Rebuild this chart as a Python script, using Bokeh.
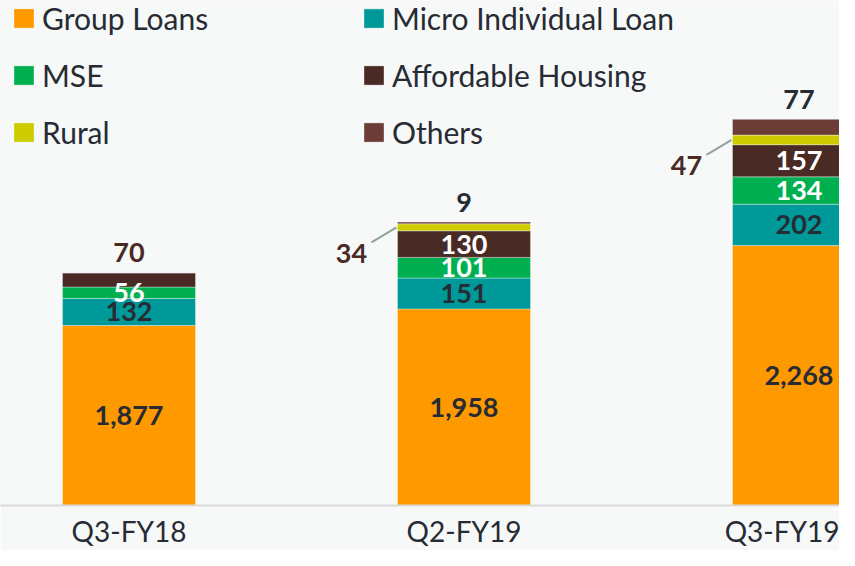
from bokeh.plotting import figure
from bokeh.models import (ColumnDataSource, Range1d, LinearAxis, FixedTicker,
                          Legend, LegendItem)
from bokeh.core.properties import value
from bokeh.embed import file_html
from bokeh.resources import INLINE

# ---------------- data ----------------
periods = ["Q3-FY18", "Q2-FY19", "Q3-FY19"]
series = ["Group Loans", "Micro Individual Loan", "MSE",
          "Affordable Housing", "Rural", "Others"]
group_loans = [1877, 1958, 2268]
micro_individual = [132, 151, 202]
mse = [56, 101, 134]
affordable_housing = [70, 130, 157]
rural = [0, 34, 47]
others = [0, 9, 77]

# ---------------- style ----------------
colors = ["#FF9900", "#009999", "#00B050", "#4A2A25", "#CCCC00", "#6B3D36"]
DARK = "#262B34"
BROWN = "#4A2A25"
BG = "#F7F8F8"
FONT = "Lato"

W, H = 839, 550
FRAME_H = 507           # frame height in px (axis panel below)
X_PX = 335.0            # px per category
X0_PX = 128.5           # px position of first category centre
Y_START = 996.7         # value at the baseline (broken axis)
Y_PX = 0.2053           # px per unit
BAR_W = 133 / X_PX

keys = ["gl", "mil", "mse", "ah", "rural", "others"]
values = [group_loans, micro_individual, mse, affordable_housing, rural, others]
xs = list(range(len(periods)))

src = ColumnDataSource(dict(x=xs, **{k: v for k, v in zip(keys, values)}))

p = figure(width=W, height=H, output_backend="svg", toolbar_location=None,
           x_range=Range1d(-X0_PX / X_PX, (W - X0_PX) / X_PX),
           y_range=Range1d(Y_START, Y_START + FRAME_H / Y_PX),
           x_axis_location=None, y_axis_location=None,
           min_border_left=0, min_border_right=0, min_border_top=0,
           min_border_bottom=H - FRAME_H)
p.background_fill_color = BG
p.border_fill_color = BG
p.outline_line_color = None
p.grid.visible = False

rs = p.vbar_stack(keys, x="x", width=BAR_W, color=colors, source=src,
                  line_color="white", line_alpha=0.35, line_width=1)

# x axis
xaxis = LinearAxis(ticker=FixedTicker(ticks=xs),
                   major_label_overrides={i: t for i, t in zip(xs, periods)})
xaxis.axis_line_color = "#D9D9D9"
xaxis.axis_line_width = 2
xaxis.major_tick_out = 0
xaxis.major_tick_in = 0
xaxis.minor_tick_out = 0
xaxis.minor_tick_in = 0
xaxis.major_label_standoff = 8
xaxis.major_label_text_font = FONT
xaxis.major_label_text_font_size = "28px"
xaxis.major_label_text_color = DARK
p.add_layout(xaxis, "below")

# legends (two columns)
def make_legend(idx, x):
    leg = Legend(items=[LegendItem(label=series[i], renderers=[rs[i]]) for i in idx],
                 location=(x, 355))
    leg.background_fill_alpha = 0
    leg.border_line_alpha = 0
    leg.padding = 0
    leg.margin = 0
    leg.spacing = 21
    leg.glyph_width = 25
    leg.glyph_height = 24
    leg.label_standoff = 6
    leg.label_height = 34
    leg.label_text_font = FONT
    leg.label_text_font_size = "30px"
    leg.label_text_color = DARK
    return leg

p.add_layout(make_legend([0, 2, 4], 11), "center")
p.add_layout(make_legend([1, 3, 5], 361), "center")

# ---------------- value labels ----------------
inside_color = {"gl": DARK, "mil": DARK, "mse": "white", "ah": "white"}
top_color = {"ah": BROWN, "others": DARK}

in_x, in_y, in_t, in_c = [], [], [], []
top_x, top_y, top_t, top_c = [], [], [], []
side_x, side_y, side_t = [], [], []
seg_x0, seg_y0, seg_x1, seg_y1 = [], [], [], []

for i in xs:
    bottom = 0
    segs = []
    for k, v in zip(keys, values):
        segs.append((k, bottom, bottom + v[i], v[i]))
        bottom += v[i]
    top_key = [s for s in segs if s[3] > 0][-1][0]
    for k, b, t, v in segs:
        if v <= 0:
            continue
        if k == top_key:
            top_x.append(i); top_y.append(t); top_t.append(f"{v:,}")
            top_c.append(top_color.get(k, DARK))
        elif k == "rural":
            mid = (b + t) / 2
            left = i - BAR_W / 2
            side_x.append(left); side_y.append(mid); side_t.append(f"{v:,}")
            seg_x0.append(left - 26 / X_PX); seg_y0.append(mid - 15 / Y_PX)
            seg_x1.append(left - 1 / X_PX); seg_y1.append(mid)
        else:
            lo = max(b, Y_START)
            in_x.append(i); in_y.append((lo + t) / 2); in_t.append(f"{v:,}")
            in_c.append(inside_color[k])

lab_kw = dict(text_font=value(FONT), text_font_style="bold",
              text_font_size="27px", text_align="center",
              text_baseline="middle")

p.text(x=in_x, y=in_y, text=in_t, text_color=in_c, **lab_kw)
p.text(x=top_x, y=top_y, text=top_t, text_color=top_c, y_offset=-20, **lab_kw)
p.segment(x0=seg_x0, y0=seg_y0, x1=seg_x1, y1=seg_y1,
          line_color="#8FA39E", line_width=2)
p.text(x=side_x, y=side_y, text=side_t, text_color=BROWN,
       x_offset=-46, y_offset=26, **lab_kw)

open("out.html", "w").write(file_html(p, INLINE))
